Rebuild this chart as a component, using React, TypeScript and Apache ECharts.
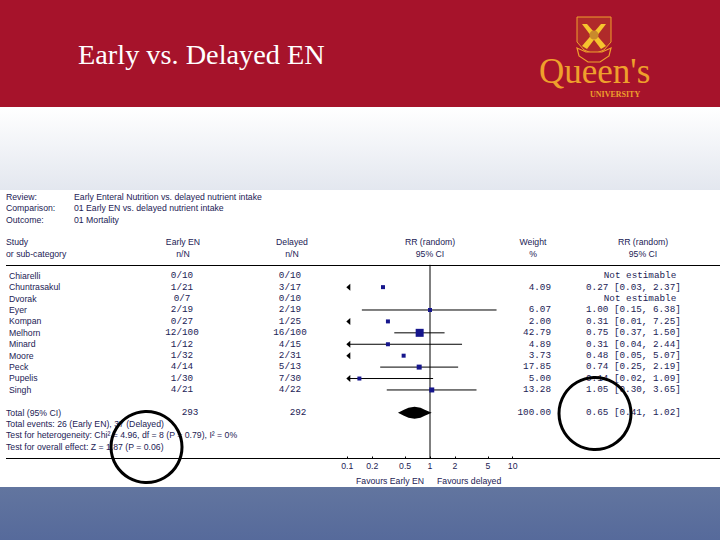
import React, { useEffect, useRef } from "react";
import * as echarts from "echarts";

const titleText = "Early vs. Delayed EN";
const metaLabels = ["Review:", "Comparison:", "Outcome:"];
const metaValues = [
  "Early Enteral Nutrition vs. delayed nutrient intake",
  "01 Early EN vs. delayed nutrient intake",
  "01 Mortality",
];
const studies = ["Chiarelli", "Chuntrasakul", "Dvorak", "Eyer", "Kompan", "Melhorn", "Minard", "Moore", "Peck", "Pupelis", "Singh"];
const earlyCounts = ["0/10", "1/21", "0/7", "2/19", "0/27", "12/100", "1/12", "1/32", "4/14", "1/30", "4/21"];
const delayedCounts = ["0/10", "3/17", "0/10", "2/19", "1/25", "16/100", "4/15", "2/31", "5/13", "7/30", "4/22"];
const weights = ["", "4.09", "", "6.07", "2.00", "42.79", "4.89", "3.73", "17.85", "5.00", "13.28"];
const ratioText = ["Not estimable", "0.27 [0.03, 2.37]", "Not estimable", "1.00 [0.15, 6.38]", "0.31 [0.01, 7.25]", "0.75 [0.37, 1.50]", "0.31 [0.04, 2.44]", "0.48 [0.05, 5.07]", "0.74 [0.25, 2.19]", "0.14 [0.02, 1.09]", "1.05 [0.30, 3.65]"];
const rr = [null, 0.27, null, 1.0, 0.31, 0.75, 0.31, 0.48, 0.74, 0.14, 1.05];
const ciLow = [null, 0.03, null, 0.15, 0.01, 0.37, 0.04, 0.05, 0.25, 0.02, 0.3];
const ciHigh = [null, 2.37, null, 6.38, 7.25, 1.5, 2.44, 5.07, 2.19, 1.09, 3.65];
const markerSize = [0, 4, 0, 4, 4, 8, 4, 4, 5, 4, 5];
const lineDrawn = [0, 0, 0, 1, 0, 1, 1, 0, 1, 1, 1];
const totalRow = { label: "Total (95% CI)", early: "293", delayed: "292", weight: "100.00", text: "0.65 [0.41, 1.02]" };
const totalRR = [0.65, 0.41, 1.02];
const footnotes = [
  "Total events: 26 (Early EN), 37 (Delayed)",
  "Test for heterogeneity: Chi² = 4.96, df = 8 (P = 0.79), I² = 0%",
  "Test for overall effect: Z = 1.87 (P = 0.06)",
];
const axisTicks = [0.1, 0.2, 0.5, 1, 2, 5, 10];

const INK = "#1c2255";
const SANS = "'Liberation Sans', Arial, sans-serif";
const MONO = "'Liberation Mono', monospace";
const SERIF = "'Liberation Serif', serif";
const GOLD = "#efa02c";
const GRID_TOP = 270;
const ROW_H = 11.4;
const rowY = (i: number) => GRID_TOP + ROW_H / 2 + i * ROW_H;

const txt = (text: string, x: number, y: number, opts: any = {}) => ({
  type: "text",
  z: opts.z ?? 5,
  style: {
    text,
    x,
    y,
    fill: opts.fill ?? INK,
    font: `${opts.weight ?? "normal"} ${opts.size ?? 8.7}px ${opts.family ?? SANS}`,
    textAlign: opts.align ?? "left",
    textVerticalAlign: "middle",
  },
});

const rowsText = () => {
  const out: any[] = [];
  studies.forEach((s, i) => {
    const y = rowY(i);
    out.push(txt(s, 9, y));
    out.push(txt(earlyCounts[i], 182, y, { family: MONO, size: 9.3, align: "center" }));
    out.push(txt(delayedCounts[i], 290, y, { family: MONO, size: 9.3, align: "center" }));
    if (weights[i]) out.push(txt(weights[i], 551, y, { family: MONO, size: 9.3, align: "right" }));
    if (rr[i] === null) out.push(txt(ratioText[i], 640, y, { family: MONO, size: 9.3, align: "center" }));
    else out.push(txt(ratioText[i], 586, y, { family: MONO, size: 9.3 }));
  });
  return out;
};

const crest = () => [
  { type: "polygon", z: 4, shape: { points: [[577, 17], [611, 17], [611, 42], [604, 50], [594, 54], [584, 50], [577, 42]] }, style: { fill: "#b02a2a", stroke: GOLD, lineWidth: 1 } },
  { type: "polygon", z: 4, shape: { points: [[582, 24], [587, 24], [606, 46], [601, 49]] }, style: { fill: "#f6c52e" } },
  { type: "polygon", z: 4, shape: { points: [[606, 24], [601, 24], [582, 46], [587, 49]] }, style: { fill: "#f6c52e" } },
  { type: "circle", z: 4, shape: { cx: 594, cy: 35, r: 4.5 }, style: { fill: "#c98a2c" } },
  { type: "polygon", z: 4, shape: { points: [[577, 48], [586, 52], [602, 52], [611, 48], [609, 56], [600, 62], [588, 62], [579, 56]] }, style: { fill: "#a6132b", stroke: GOLD, lineWidth: 1.2 } },
];

const renderForest = (params: any, api: any) => {
  const row = api.value(1);
  const val = api.value(0);
  const low = api.value(2);
  const high = api.value(3);
  const size = api.value(4);
  const drawn = api.value(5);
  const isTotal = api.value(6);
  const [cx, cy] = api.coord([val, row]);
  const [lx] = api.coord([Math.max(low, 0.1), row]);
  const [hx] = api.coord([Math.min(high, 10), row]);
  if (isTotal) {
    return {
      type: "polygon",
      shape: { points: [[lx, cy], [lx + 6, cy - 3], [cx - 6, cy - 5], [cx, cy - 6], [cx + 6, cy - 5], [hx - 6, cy - 3], [hx + 1, cy], [hx - 6, cy + 3], [cx + 6, cy + 5], [cx, cy + 6], [cx - 6, cy + 5], [lx + 6, cy + 3]] },
      style: { fill: "#000" },
    };
  }
  const children: any[] = [];
  if (drawn) children.push({ type: "line", shape: { x1: lx, y1: cy, x2: hx, y2: cy }, style: { stroke: "#000", lineWidth: 1 } });
  if (low < 0.1) children.push({ type: "polygon", shape: { points: [[lx - 1, cy], [lx + 3, cy - 3.5], [lx + 3, cy + 3.5]] }, style: { fill: "#000" } });
  children.push({ type: "rect", shape: { x: cx - size / 2, y: cy - size / 2, width: size, height: size }, style: { fill: "#16168c" } });
  return { type: "group", children };
};

export default function App() {
  const ref = useRef<HTMLDivElement>(null);
  useEffect(() => {
    document.body.style.margin = "0";
    const chart = echarts.init(ref.current!, null, { renderer: "svg" });
    const data: any[] = [];
    rr.forEach((v, i) => {
      if (v !== null) data.push([v, i, ciLow[i], ciHigh[i], markerSize[i], lineDrawn[i], 0]);
    });
    data.push([totalRR[0], 12, totalRR[1], totalRR[2], 0, 1, 1]);
    chart.setOption({
      animation: false,
      backgroundColor: "#ffffff",
      grid: { left: 347.3, width: 165.4, top: GRID_TOP, height: 188.5 },
      xAxis: {
        type: "log",
        logBase: 10,
        min: 0.1,
        max: 10,
        position: "bottom",
        axisLine: { show: false, onZero: false },
        axisTick: { show: true, inside: true, length: 2, lineStyle: { color: "#000" }, customValues: axisTicks },
        axisLabel: {
          color: INK,
          fontFamily: SANS,
          fontSize: 8.7,
          margin: 3,
          customValues: axisTicks,
          formatter: (v: number) => String(v),
        },
        splitLine: { show: false },
        minorTick: { show: false },
      },
      yAxis: { type: "value", inverse: true, min: -0.5, max: 16, show: false },
      series: [
        {
          type: "line",
          data: [[1, -0.95], [1, 16]],
          clip: false,
          symbol: "none",
          lineStyle: { color: "#000", width: 1 },
          z: 3,
        },
        { type: "custom", data, renderItem: renderForest, clip: false, z: 4, encode: { x: 0, y: 1 } },
      ],
      graphic: [
        { type: "rect", z: -10, shape: { x: 0, y: 0, width: 720, height: 107 }, style: { fill: "#a6132b" } },
        {
          type: "rect", z: -10, shape: { x: 0, y: 107, width: 720, height: 83 },
          style: { fill: new echarts.graphic.LinearGradient(0, 0, 0, 1, [{ offset: 0, color: "#ffffff" }, { offset: 1, color: "#e3e7ef" }]) },
        },
        {
          type: "rect", z: -10, shape: { x: 0, y: 487, width: 720, height: 53 },
          style: { fill: new echarts.graphic.LinearGradient(0, 0, 0, 1, [{ offset: 0, color: "#62759f" }, { offset: 1, color: "#566a9b" }]) },
        },
        txt(titleText, 78, 54, { family: SERIF, size: 28.3, fill: "#ffffff" }),
        ...crest(),
        txt("Queen's", 539, 71.5, { family: SERIF, size: 35, fill: GOLD }),
        txt("UNIVERSITY", 590, 94, { family: SERIF, size: 8, fill: GOLD, weight: "bold" }),
        ...metaLabels.map((t, i) => txt(t, 6, 197 + i * 11.3)),
        ...metaValues.map((t, i) => txt(t, 74, 197 + i * 11.3)),
        txt("Study", 6, 242),
        txt("or sub-category", 6, 254),
        txt("Early EN", 183, 242, { align: "center" }),
        txt("n/N", 183, 254, { align: "center" }),
        txt("Delayed", 292, 242, { align: "center" }),
        txt("n/N", 292, 254, { align: "center" }),
        txt("RR (random)", 430, 242, { align: "center" }),
        txt("95% CI", 430, 254, { align: "center" }),
        txt("Weight", 533, 242, { align: "center" }),
        txt("%", 533, 254, { align: "center" }),
        txt("RR (random)", 643, 242, { align: "center" }),
        txt("95% CI", 643, 254, { align: "center" }),
        { type: "line", z: 3, shape: { x1: 6, y1: 265.5, x2: 720, y2: 265.5 }, style: { stroke: "#000", lineWidth: 1 } },
        { type: "line", z: 3, shape: { x1: 6, y1: 458.5, x2: 720, y2: 458.5 }, style: { stroke: "#000", lineWidth: 1 } },
        ...rowsText(),
        txt(totalRow.label, 6, rowY(12)),
        txt(totalRow.early, 190, rowY(12), { family: MONO, size: 9.3, align: "center" }),
        txt(totalRow.delayed, 298, rowY(12), { family: MONO, size: 9.3, align: "center" }),
        txt(totalRow.weight, 551, rowY(12), { family: MONO, size: 9.3, align: "right" }),
        txt(totalRow.text, 586, rowY(12), { family: MONO, size: 9.3 }),
        ...footnotes.map((t, i) => txt(t, 6, 424 + i * 11.4)),
        txt("Favours Early EN", 356, 481),
        txt("Favours delayed", 437, 481),
        { type: "circle", z: 8, shape: { cx: 146.5, cy: 447, r: 35.5 }, style: { fill: "none", stroke: "#000", lineWidth: 3 } },
        { type: "circle", z: 8, shape: { cx: 595, cy: 413.5, r: 36 }, style: { fill: "none", stroke: "#000", lineWidth: 3 } },
      ],
    });
    return () => chart.dispose();
  }, []);
  return <div ref={ref} style={{ width: 720, height: 540 }} />;
}
